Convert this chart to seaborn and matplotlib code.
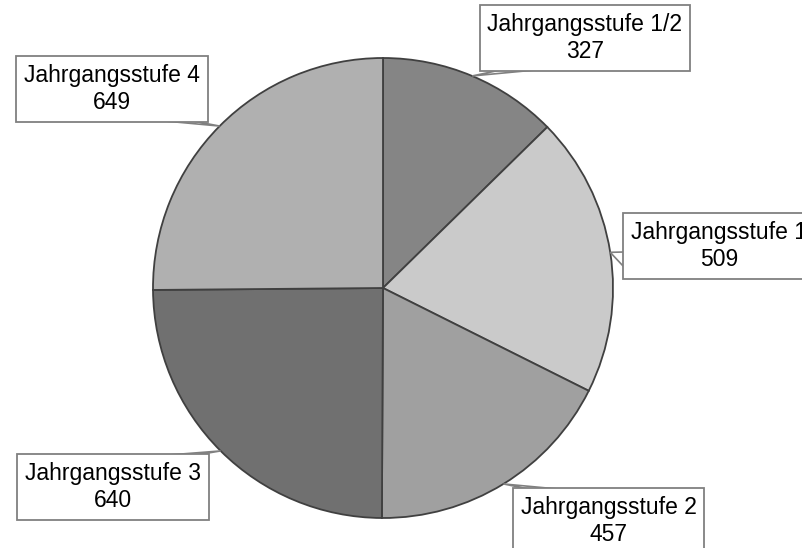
import numpy as np
import matplotlib.pyplot as plt
import seaborn as sns
from matplotlib.patches import Polygon
from matplotlib.transforms import IdentityTransform

labels = ["Jahrgangsstufe 1/2", "Jahrgangsstufe 1", "Jahrgangsstufe 2",
          "Jahrgangsstufe 3", "Jahrgangsstufe 4"]
values = [327, 509, 457, 640, 649]
colors = ["#858585", "#cacaca", "#a0a0a0", "#707070", "#b0b0b0"]

sns.set_theme(style="white")
plt.rcParams["font.family"] = ["Liberation Sans", "DejaVu Sans"]

W, H = 803, 548
fig = plt.figure(figsize=(W / 100, H / 100), dpi=100)

# pie centre and radius in pixels (from top-left)
cx, cy, r = 383, 288, 230
ax = fig.add_axes([(cx - r) / W, (H - cy - r) / H, 2 * r / W, 2 * r / H])
wedges, _ = ax.pie(values, colors=colors, startangle=90, counterclock=False,
                   radius=1, wedgeprops=dict(edgecolor="#404040", linewidth=1.3))
for w in wedges:
    w.set_clip_on(False)
ax.set_xlim(-1, 1)
ax.set_ylim(-1, 1)

# callout box centres and pointer bases, pixels from top-left
box_pos = [(585, 38), (719, 246), (609, 521), (113, 487), (112, 89)]
ptr_base = [((515, 67), (567, 67)),
            ((624, 252), (624, 267)),
            ((543, 492), (590, 492)),
            ((130, 458), (178, 458)),
            ((132, 118), (177, 118))]

fig.canvas.draw()
for w, lab, val, (px, py), (b1, b2) in zip(wedges, labels, values, box_pos, ptr_base):
    mid = np.deg2rad((w.theta1 + w.theta2) / 2)
    tip = ax.transData.transform((np.cos(mid), np.sin(mid)))
    pts = [(b1[0], H - b1[1]), tuple(tip), (b2[0], H - b2[1])]
    ax.add_patch(Polygon(pts, closed=True, fc="white", ec="#808080", lw=1.2,
                         transform=IdentityTransform(), clip_on=False, zorder=2))
    fig.text(px / W, 1 - py / H, f"{lab}\n{val}", ha="center", va="center",
             fontsize=16.5, linespacing=1.25, color="black",
             bbox=dict(boxstyle="square,pad=0.33", fc="white",
                       ec="#808080", lw=1.3))

fig.savefig("out.png", dpi=100)
